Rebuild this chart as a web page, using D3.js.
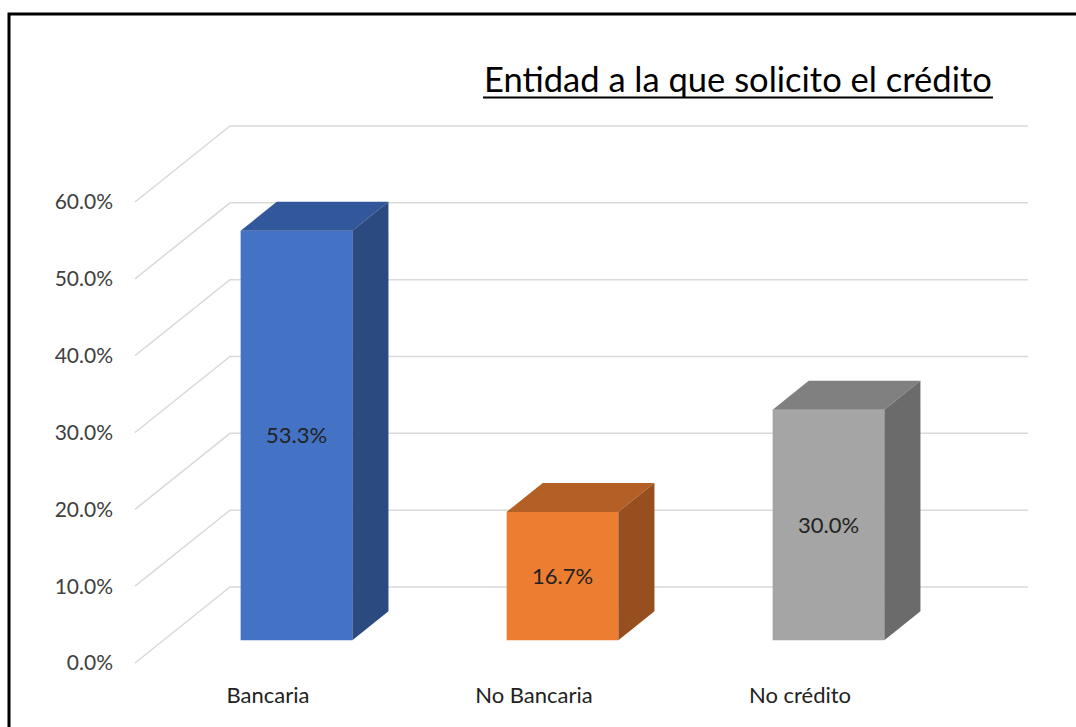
<!DOCTYPE html>
<html>
<head>
<meta charset="utf-8">
<script src="https://cdn.jsdelivr.net/npm/d3@7.9.0/dist/d3.min.js"></script>
<style>
  body { margin: 0; background: #fff; }
  text { font-family: Lato, "Open Sans", sans-serif; }
</style>
</head>
<body>
<svg width="1076" height="727"></svg>
<script>
// data
const categories = ["Bancaria", "No Bancaria", "No crédito"];
const values = [0.533, 0.167, 0.300];
const valueLabels = ["53.3%", "16.7%", "30.0%"];
const tickValues = [0, 0.1, 0.2, 0.3, 0.4, 0.5, 0.6];
const frontColors = ["#4472c4", "#ed7d31", "#a5a5a5"];
const topColors = ["#32579a", "#b35f25", "#808080"];
const sideColors = ["#2b4a80", "#984f1f", "#6b6b6b"];
const title = "Entidad a la que solicito el crédito";

const svg = d3.select("svg");

// 3d depth: offset of the back wall
const depthX = 95, depthY = -76;
const zFront = 0.30, zBack = 0.68;

let y = d3.scaleLinear().domain([0, 0.6]).range([663, 202]);
let x = d3.scaleBand().domain(categories).range([135, 933]).padding(0);
const barW = x.bandwidth() * 0.42;

// frame
svg.append("path")
  .attr("d", "M9,727V14H1076")
  .attr("fill", "none")
  .attr("stroke", "#000")
  .attr("stroke-width", 3);

// gridlines: front diagonal then along the back wall
tickValues.forEach(t => {
  let y0 = y(t);
  svg.append("polyline")
    .attr("points", [[x.range()[0], y0], [x.range()[0] + depthX, y0 + depthY], [x.range()[1] + depthX, y0 + depthY]].join(" "))
    .attr("fill", "none")
    .attr("stroke", "#d9d9d9")
    .attr("stroke-width", 1.5);
  svg.append("text")
    .attr("x", 113)
    .attr("y", y0)
    .attr("dy", "0.35em")
    .attr("text-anchor", "end")
    .attr("font-size", 21)
    .attr("fill", "#404040")
    .text(d3.format(".1%")(t));
});

// bars
categories.forEach((c, i) => {
  let cx = x(c) + x.bandwidth() / 2 + zFront * depthX;
  let x0 = cx - barW / 2, x1 = cx + barW / 2;
  let yb = y(0) + zFront * depthY;
  let yt = y(values[i]) + zFront * depthY;
  let dx = (zBack - zFront) * depthX, dy = (zBack - zFront) * depthY;

  svg.append("polygon")
    .attr("points", [[x0, yb], [x0, yt], [x1, yt], [x1, yb]].join(" "))
    .attr("fill", frontColors[i]);
  svg.append("polygon")
    .attr("points", [[x0, yt], [x0 + dx, yt + dy], [x1 + dx, yt + dy], [x1, yt]].join(" "))
    .attr("fill", topColors[i]);
  svg.append("polygon")
    .attr("points", [[x1, yt], [x1 + dx, yt + dy], [x1 + dx, yb + dy], [x1, yb]].join(" "))
    .attr("fill", sideColors[i]);

  svg.append("text")
    .attr("x", cx)
    .attr("y", (yt + yb) / 2)
    .attr("dy", "0.35em")
    .attr("text-anchor", "middle")
    .attr("font-size", 22)
    .attr("fill", "#222")
    .text(valueLabels[i]);

  svg.append("text")
    .attr("x", x(c) + x.bandwidth() / 2)
    .attr("y", 695)
    .attr("dy", "0.35em")
    .attr("text-anchor", "middle")
    .attr("font-size", 22)
    .attr("fill", "#222")
    .text(c);
});

// title
let t = svg.append("text")
  .attr("x", 484)
  .attr("y", 92)
  .attr("font-size", 28)
  .attr("fill", "#000")
  .text(title);
let w = t.node().getComputedTextLength();
t.attr("font-size", 28 * 508 / w);
svg.append("line")
  .attr("x1", 483).attr("x2", 993)
  .attr("y1", 97.5).attr("y2", 97.5)
  .attr("stroke", "#000")
  .attr("stroke-width", 2);
</script>
</body>
</html>
